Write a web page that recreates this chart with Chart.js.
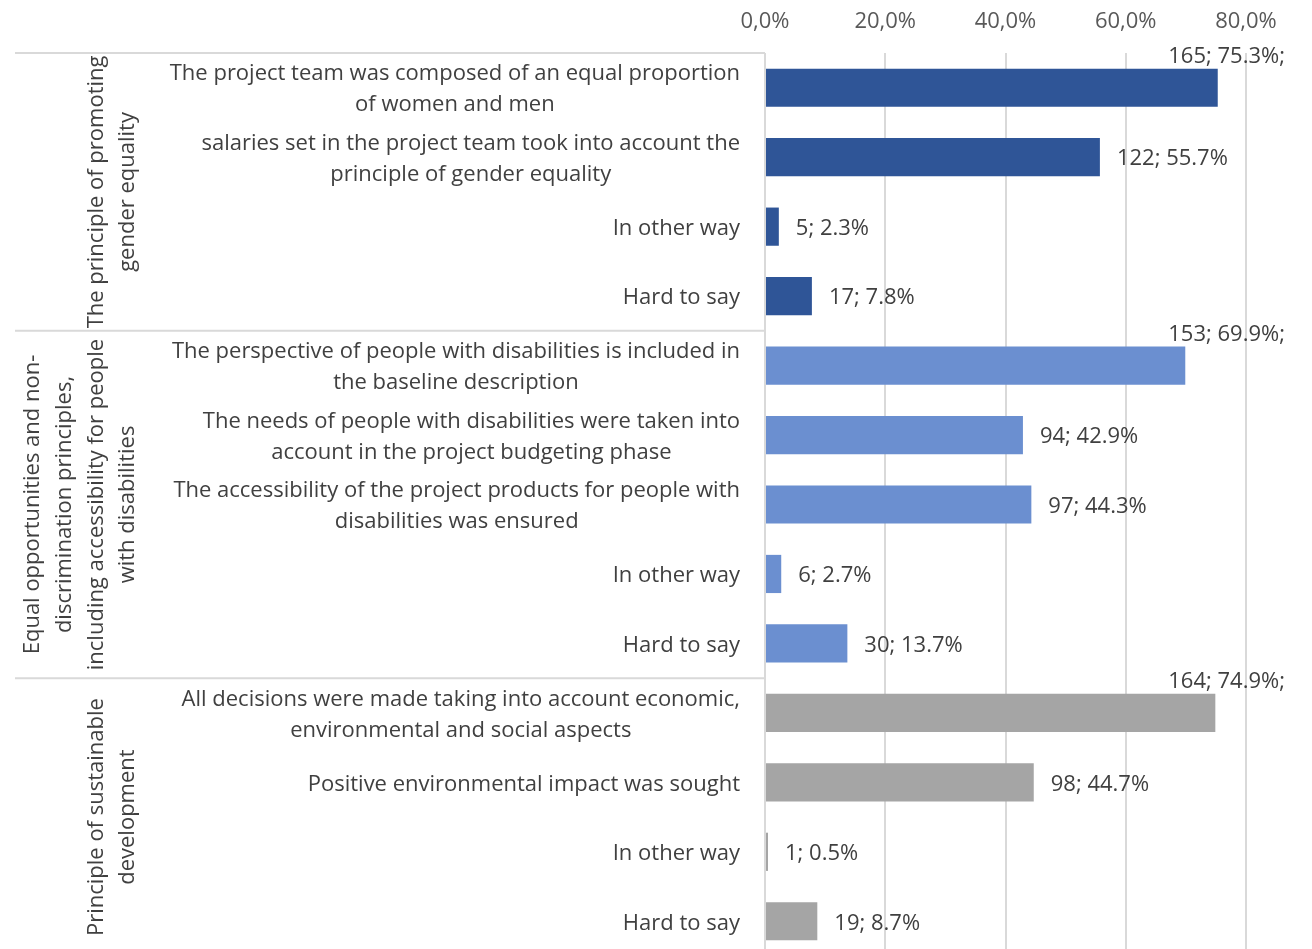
<!DOCTYPE html>
<html>
<head>
<meta charset="utf-8">
<script src="https://cdn.jsdelivr.net/npm/chart.js@4.4.1/dist/chart.umd.min.js"></script>
<style>
    html, body { margin: 0; padding: 0; overflow: hidden; background: #fff; }
    #wrap { position: relative; width: 1312px; height: 956px; }
</style>
</head>
<body>
<div id="wrap"><canvas id="chart"></canvas></div>
<script>
// --- data ---
const categories = [
    ['The project team was composed of an equal proportion', 'of women and men'],
    ['salaries set in the project team took into account the', 'principle of gender equality'],
    ['In other way'],
    ['Hard to say'],
    ['The perspective of people with disabilities is included in', 'the baseline description'],
    ['The needs of people with disabilities were taken into', 'account in the project budgeting phase'],
    ['The accessibility of the project products for people with', 'disabilities was ensured'],
    ['In other way'],
    ['Hard to say'],
    ['All decisions were made taking into account economic,', 'environmental and social aspects'],
    ['Positive environmental impact was sought'],
    ['In other way'],
    ['Hard to say']
];
const groupNames = [
    ['The principle of promoting', 'gender equality'],
    ['Equal opportunities and non-', 'discrimination principles,', 'including accessibility for people', 'with disabilities'],
    ['Principle of sustainable', 'development']
];
const groupSizes = [4, 5, 4];
const counts = [165, 122, 5, 17, 153, 94, 97, 6, 30, 164, 98, 1, 19];
const percents = [75.3, 55.7, 2.3, 7.8, 69.9, 42.9, 44.3, 2.7, 13.7, 74.9, 44.7, 0.5, 8.7];
const groupColors = ['#2F5597', '#6B8FD0', '#A5A5A5'];
const xMax = 80;
const xStep = 20;

const FONT = '"Open Sans", "Noto Sans", sans-serif';
const FONT_SIZE = 22;

// colour of each bar from the group it belongs to
const barColors = [];
groupSizes.forEach((n, g) => { for (let i = 0; i < n; i++) barColors.push(groupColors[g]); });

// draws the two-level category labels, separators and data labels
const labelPlugin = {
    id: 'labelPlugin',
    afterDraw(chart) {
        const ctx = chart.ctx;
        const yScale = chart.scales.y;
        const area = chart.chartArea;
        ctx.save();
        ctx.font = FONT_SIZE + 'px ' + FONT;
        ctx.fillStyle = '#404040';
        ctx.textBaseline = 'middle';

        // category labels: block right-aligned, lines centred inside the block
        const labelRight = area.left - 25;
        categories.forEach((lines, i) => {
            const y = yScale.getPixelForValue(i) + 2;
            const blockW = Math.max(...lines.map(l => ctx.measureText(l).width));
            ctx.textAlign = 'center';
            lines.forEach((line, j) => {
                ctx.fillText(line, labelRight - blockW / 2, y + (j - (lines.length - 1) / 2) * 31);
            });
        });

        // group separators and rotated group names
        ctx.strokeStyle = '#D9D9D9';
        ctx.lineWidth = 2;
        let start = 0;
        groupSizes.forEach((n, g) => {
            const top = yScale.getPixelForValue(start - 0.5);
            const bottom = yScale.getPixelForValue(start + n - 0.5);
            ctx.beginPath();
            ctx.moveTo(15, top);
            ctx.lineTo(area.left, top);
            ctx.stroke();

            const lines = groupNames[g];
            const lastX = 128;
            const lh = 31.7;
            ctx.textAlign = 'center';
            lines.forEach((line, j) => {
                const x = lastX - (lines.length - 1 - j) * lh;
                ctx.save();
                ctx.translate(x, (top + bottom) / 2);
                ctx.rotate(-Math.PI / 2);
                ctx.fillText(line, 0, 0);
                ctx.restore();
            });
            start += n;
        });

        // data labels
        const meta = chart.getDatasetMeta(0);
        meta.data.forEach((bar, i) => {
            const p = percents[i];
            if (p > 65) {
                ctx.textAlign = 'right';
                ctx.fillText(counts[i] + '; ' + p.toFixed(1) + '%;', area.right + 39, bar.y - bar.height / 2 - 12);
            } else {
                ctx.textAlign = 'left';
                ctx.fillText(counts[i] + '; ' + p.toFixed(1) + '%', bar.x + 17, bar.y + 2);
            }
        });
        ctx.restore();
    }
};

new Chart(document.getElementById('chart'), {
    type: 'bar',
    data: {
        labels: categories.map(l => l.join(' ')),
        datasets: [{
            data: percents,
            backgroundColor: barColors,
            borderWidth: 0,
            categoryPercentage: 1,
            barPercentage: 0.55
        }]
    },
    options: {
        indexAxis: 'y',
        responsive: true,
        maintainAspectRatio: false,
        animation: false,
        layout: { padding: { right: 66, top: 0, bottom: 0, left: 0 } },
        plugins: { legend: { display: false }, tooltip: { enabled: false } },
        scales: {
            x: {
                position: 'top',
                min: 0,
                max: xMax,
                ticks: {
                    stepSize: xStep,
                    padding: 18,
                    color: '#595959',
                    font: { family: FONT, size: FONT_SIZE },
                    callback: v => v.toFixed(1).replace('.', ',') + '%'
                },
                grid: { color: '#D9D9D9', lineWidth: 2, drawTicks: false },
                border: { display: false },
                afterFit: scale => { scale.height = 53; }
            },
            y: {
                ticks: { display: false },
                grid: { display: false },
                border: { display: false },
                afterFit: scale => { scale.width = 765; }
            }
        }
    },
    plugins: [labelPlugin]
});
</script>
</body>
</html>
